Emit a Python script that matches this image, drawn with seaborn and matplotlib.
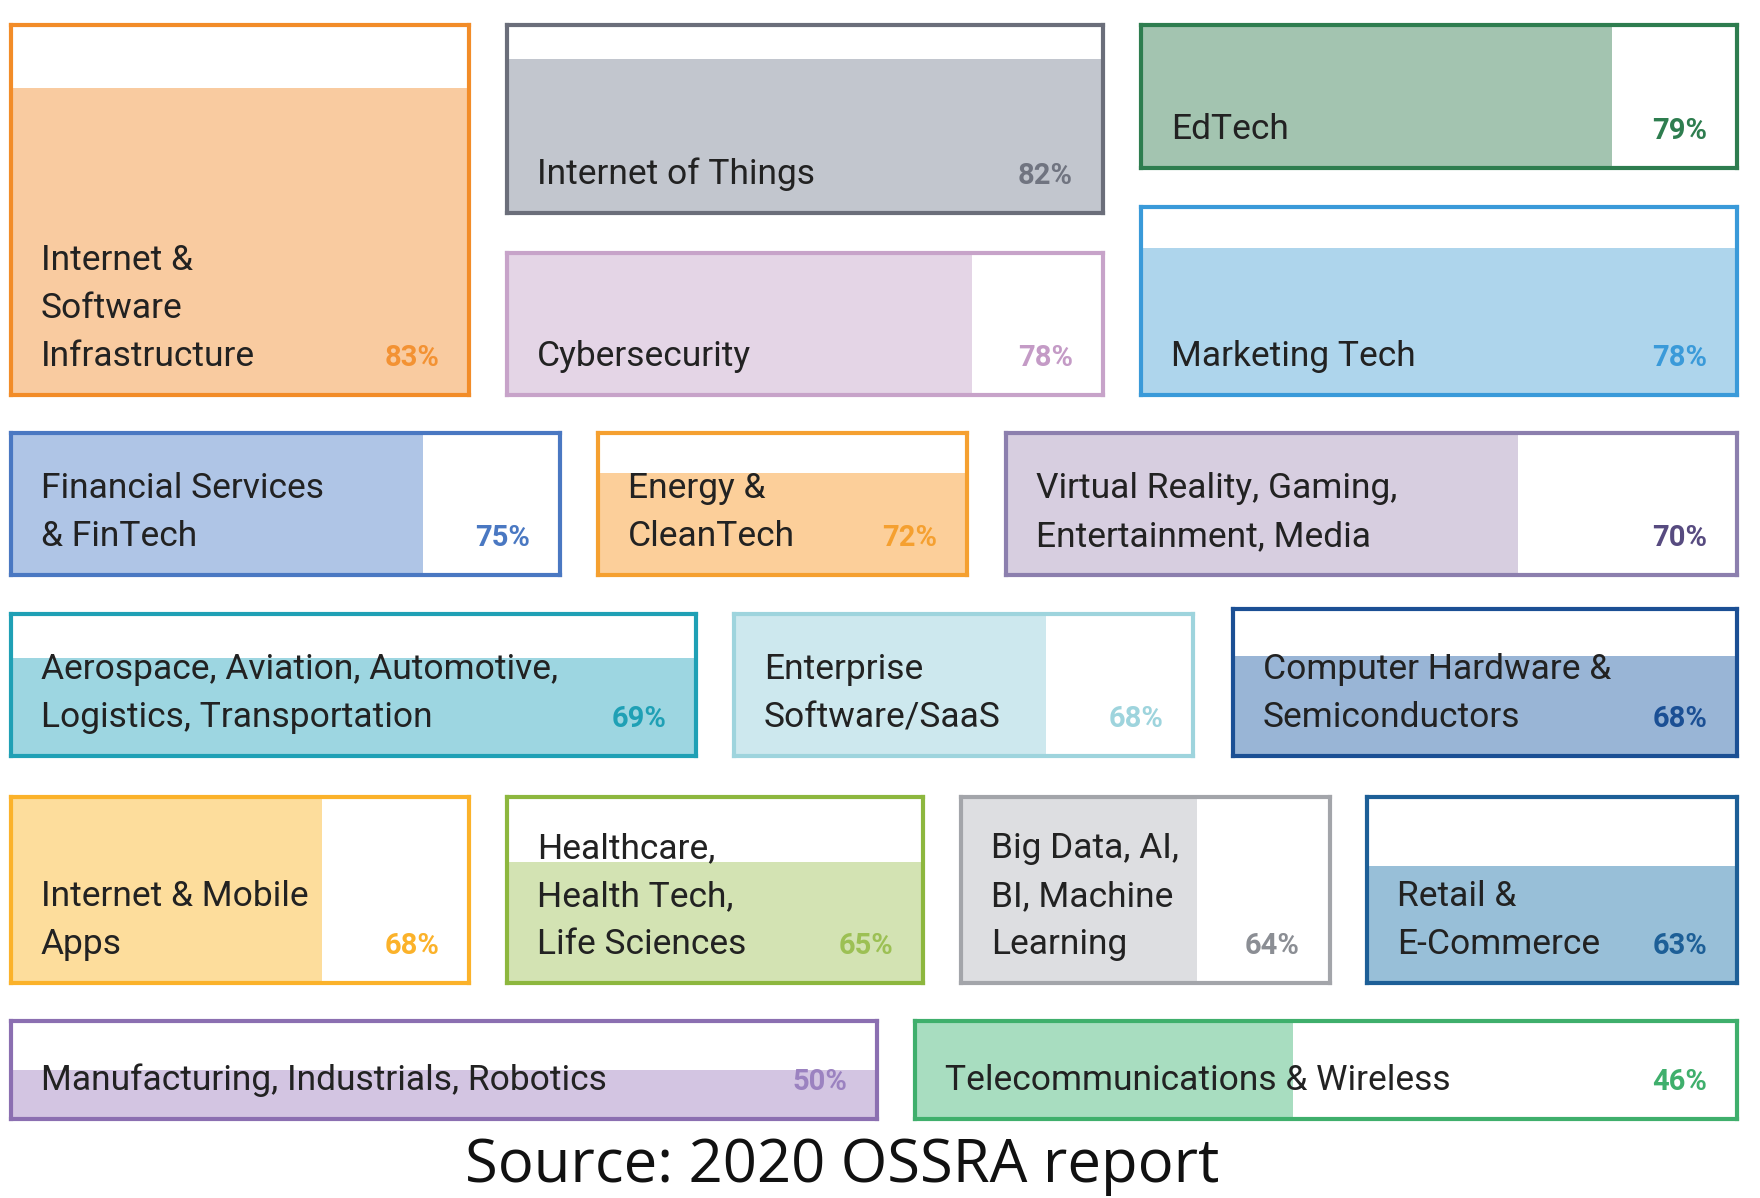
import matplotlib
matplotlib.use("Agg")
import matplotlib.pyplot as plt
import seaborn as sns

sectors = [
    "Internet &\nSoftware\nInfrastructure",
    "Internet of Things",
    "EdTech",
    "Cybersecurity",
    "Marketing Tech",
    "Financial Services\n& FinTech",
    "Energy &\nCleanTech",
    "Virtual Reality, Gaming,\nEntertainment, Media",
    "Aerospace, Aviation, Automotive,\nLogistics, Transportation",
    "Enterprise\nSoftware/SaaS",
    "Computer Hardware &\nSemiconductors",
    "Internet & Mobile\nApps",
    "Healthcare,\nHealth Tech,\nLife Sciences",
    "Big Data, AI,\nBI, Machine\nLearning",
    "Retail &\nE-Commerce",
    "Manufacturing, Industrials, Robotics",
    "Telecommunications & Wireless",
]
percents = [83, 82, 79, 78, 78, 75, 72, 70, 69, 68, 68, 68, 65, 64, 63, 50, 46]

# layout: box edges in output pixels (left, top, right, bottom) and fill direction
boxes = [
    (11, 25, 469, 395), (507, 25, 1103, 213), (1141, 25, 1737, 168),
    (507, 253, 1103, 395), (1141, 207, 1737, 395),
    (11, 433, 560, 575), (598, 433, 967, 575), (1006, 433, 1737, 575),
    (11, 614, 696, 756), (734, 614, 1193, 756), (1233, 609, 1737, 756),
    (11, 797, 469, 983), (507, 797, 923, 983), (961, 797, 1330, 983),
    (1367, 797, 1737, 983),
    (11, 1021, 877, 1119), (915, 1021, 1737, 1119),
]
fill_dir = ["v", "v", "h", "h", "v", "h", "v", "h", "v", "h", "v",
            "h", "v", "h", "v", "v", "h"]

# style: border, fill, percent text colour
border_colors = ["#F28C28", "#6B6E7A", "#2E7D4F", "#C7A3C9", "#3A9AD9",
                 "#4A78C2", "#F5A030", "#8C7FAE", "#1FA0B5", "#9ED4DD",
                 "#1B4F94", "#FBB22A", "#8DB73E", "#A3A5AA", "#1D5F97",
                 "#8B6FB1", "#3FAF6C"]
fill_colors = ["#F9CBA0", "#C2C6CE", "#A3C4B0", "#E4D5E6", "#AED5EC",
               "#AFC5E6", "#FCCF9A", "#D7CEE0", "#9DD6E1", "#CDE8EE",
               "#99B5D6", "#FDDD9C", "#D3E3B3", "#DDDEE1", "#98BFD8",
               "#D3C5E2", "#A8DDC0"]
pct_colors = ["#F39233", "#707480", "#2E7D4F", "#C49BC6", "#3A9AD9",
              "#4A78C2", "#F5A030", "#574B80", "#1FA0B5", "#9ED4DD",
              "#1B4F94", "#FBB22A", "#9CC054", "#8B8E94", "#1D5F97",
              "#9B82C0", "#3FAF6C"]

W, H = 1760, 1198
sns.set_style("white")
plt.rcParams["font.family"] = ["Roboto", "DejaVu Sans"]

fig = plt.figure(figsize=(W / 100, H / 100), dpi=100)
fig.patch.set_facecolor("white")

for i, label in enumerate(sectors):
    x0, y0, x1, y1 = boxes[i]
    ax = fig.add_axes([x0 / W, 1 - y1 / H, (x1 - x0) / W, (y1 - y0) / H])
    if fill_dir[i] == "h":
        sns.barplot(x=[percents[i]], y=[0], orient="h", width=1,
                    color=fill_colors[i], saturation=1, linewidth=0, ax=ax)
        ax.set_xlim(0, 100)
        ax.set_ylim(0.5, -0.5)
    else:
        sns.barplot(x=[0], y=[percents[i]], width=1,
                    color=fill_colors[i], saturation=1, linewidth=0, ax=ax)
        ax.set_ylim(0, 100)
        ax.set_xlim(-0.5, 0.5)
    ax.set_xticks([])
    ax.set_yticks([])
    ax.set_xlabel("")
    ax.set_ylabel("")
    ax.set_facecolor("white")
    for sp in ax.spines.values():
        sp.set_visible(True)
        sp.set_color(border_colors[i])
        sp.set_linewidth(3)

    ax.annotate(label, xy=(0, 0), xycoords="axes fraction",
                xytext=(30, 22), textcoords="offset pixels",
                ha="left", va="bottom", fontsize=25.5, color="#222222",
                linespacing=1.57)
    ax.annotate(f"{percents[i]}%", xy=(1, 0), xycoords="axes fraction",
                xytext=(-30, 23), textcoords="offset pixels",
                ha="right", va="bottom", fontsize=21, fontweight="bold",
                color=pct_colors[i])

fig.text(842 / W, 1 - 1182 / H, "Source: 2020 OSSRA report",
         ha="center", va="baseline", fontsize=43, color="#111111",
         family=["Open Sans", "DejaVu Sans"])

fig.savefig("out.png", dpi=100, facecolor="white")
